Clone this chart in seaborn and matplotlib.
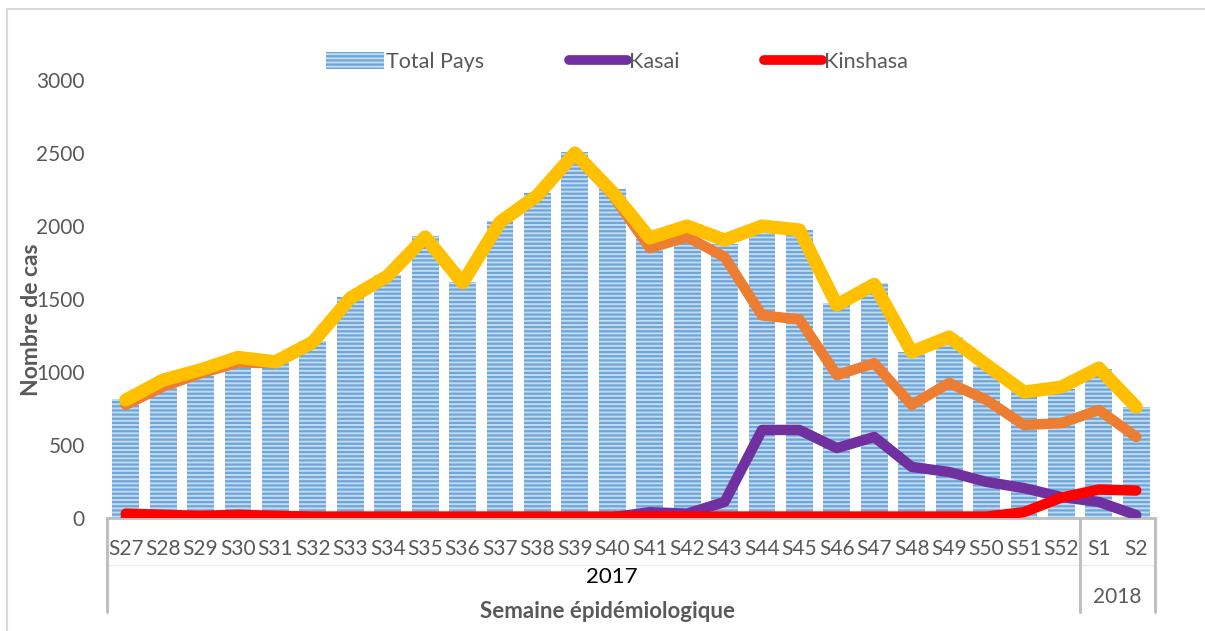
import matplotlib
matplotlib.use("Agg")
import matplotlib.pyplot as plt
import matplotlib.transforms as mtransforms
from matplotlib.lines import Line2D
from matplotlib.patches import Patch
import numpy as np
import seaborn as sns

# weekly cases
weeks = ["S27", "S28", "S29", "S30", "S31", "S32", "S33", "S34", "S35", "S36",
         "S37", "S38", "S39", "S40", "S41", "S42", "S43", "S44", "S45", "S46",
         "S47", "S48", "S49", "S50", "S51", "S52", "S1", "S2"]
total_pays = [815, 897, 973, 1048, 1060, 1212, 1514, 1664, 1932, 1616,
              2034, 2226, 2507, 2253, 1910, 1952, 1875, 1985, 1975, 1472,
              1610, 1137, 1240, 1041, 870, 884, 1020, 760]
total_line = [808, 945, 1015, 1100, 1070, 1205, 1507, 1658, 1925, 1610,
              2027, 2210, 2500, 2233, 1918, 2000, 1904, 2000, 1973, 1459,
              1600, 1137, 1240, 1048, 863, 897, 1027, 760]
autres = [775, 900, 990, 1065, 1060, 1195, 1500, 1650, 1918, 1603,
          2018, 2200, 2492, 2215, 1849, 1925, 1788, 1388, 1360, 979,
          1060, 774, 925, 808, 637, 650, 740, 555]
kasai = [0, 0, 0, 0, 0, 0, 0, 0, 0, 0,
         0, 0, 0, 5, 40, 30, 110, 603, 603, 479,
         555, 350, 315, 247, 205, 144, 110, 20]
kinshasa = [30, 22, 15, 22, 15, 10, 10, 10, 10, 10,
            10, 10, 10, 10, 10, 10, 10, 10, 10, 10,
            10, 10, 10, 10, 40, 140, 195, 188]
years = ["2017", "2018"]

BAR_FILL = "#c3dbf0"
BAR_STRIPE = "#6ea6da"
GREY = "#595959"
LINE_GREY = "#bfbfbf"

sns.set_theme(style="white")
plt.rcParams["font.family"] = ["Lato", "DejaVu Sans"]
plt.rcParams["hatch.linewidth"] = 1.6

fig = plt.figure(figsize=(12.05, 6.31), dpi=100)
ax = fig.add_axes([107 / 1205, 1 - 518 / 631, 1048 / 1205, 438 / 631])

sns.barplot(x=weeks, y=total_pays, color=BAR_FILL, saturation=1, width=0.72,
            hatch="----", edgecolor=BAR_STRIPE, linewidth=0, ax=ax, zorder=1)

pos = np.arange(len(weeks))
line_kw = dict(solid_capstyle="round", solid_joinstyle="round", legend=False, ax=ax)
sns.lineplot(x=pos, y=autres, color="#ed7d31", linewidth=7.5, zorder=3, **line_kw)
sns.lineplot(x=pos, y=total_line, color="#ffc000", linewidth=9.5, zorder=4, **line_kw)
sns.lineplot(x=pos, y=kasai, color="#7030a0", linewidth=7.5, zorder=5, **line_kw)
sns.lineplot(x=pos, y=kinshasa, color="#ff0000", linewidth=7.5, zorder=6, **line_kw)

ax.set_xlim(-0.5, len(weeks) - 0.5)
ax.set_ylim(0, 3000)
ax.set_yticks(range(0, 3001, 500))
ax.set_xlabel("")
ax.set_ylabel("")
for s in ax.spines.values():
    s.set_visible(False)
ax.tick_params(axis="both", length=0, labelsize=15, labelcolor=GREY)
ax.tick_params(axis="y", pad=16)
ax.tick_params(axis="x", pad=15)
ax.grid(False)

# category table lines under the axis
tr = mtransforms.blended_transform_factory(ax.transData, ax.transAxes)
bottom = -(612 - 518) / 438
ax.plot([-0.5, len(weeks) - 0.5], [0, 0], transform=tr, color=LINE_GREY,
        lw=2, clip_on=False, zorder=0.5)
ax.plot([-0.5, len(weeks) - 0.5], [-(565 - 518) / 438] * 2, transform=tr,
        color="#ececec", lw=1, clip_on=False)
for xv in [-0.5, 25.5, len(weeks) - 0.5]:
    ax.plot([xv, xv], [0, bottom], transform=tr, color=LINE_GREY, lw=2.2,
            clip_on=False)

ax.text(13.0, -(577 - 518) / 438, years[0], transform=tr, ha="center",
        va="center", fontsize=16, color="black")
ax.text(26.5, -(597 - 518) / 438, years[1], transform=tr, ha="center",
        va="center", fontsize=15, color=GREY)

fig.text(608 / 1205, 1 - 612 / 631, "Semaine épidémiologique", ha="center",
         va="center", fontsize=16, fontweight="bold", color=GREY)
fig.text(32 / 1205, 1 - 320 / 631, "Nombre de cas", ha="center", va="center",
         rotation=90, fontsize=16.5, fontweight="bold", color=GREY)

# outer chart frame (only top and left visible in the reference)
fig.add_artist(Line2D([7 / 1205, 7 / 1205], [0, 1 - 9 / 631],
                      transform=fig.transFigure, color="#d9d9d9", lw=1.5))
fig.add_artist(Line2D([7 / 1205, 1], [1 - 9 / 631, 1 - 9 / 631],
                      transform=fig.transFigure, color="#d9d9d9", lw=1.5))

handles = [
    Patch(facecolor=BAR_FILL, edgecolor=BAR_STRIPE, hatch="----", linewidth=0),
    Line2D([], [], color="#7030a0", lw=7, solid_capstyle="round"),
    Line2D([], [], color="#ff0000", lw=7, solid_capstyle="round"),
]
fig.legend(handles, ["Total Pays", "Kasai", "Kinshasa"], loc="center",
           bbox_to_anchor=(617 / 1205, 1 - 62 / 631), ncol=3, frameon=False,
           handlelength=2.7, handleheight=0.8, columnspacing=3.9,
           handletextpad=0.12, fontsize=15.5, labelcolor=GREY)

fig.savefig("out.png", dpi=100)
